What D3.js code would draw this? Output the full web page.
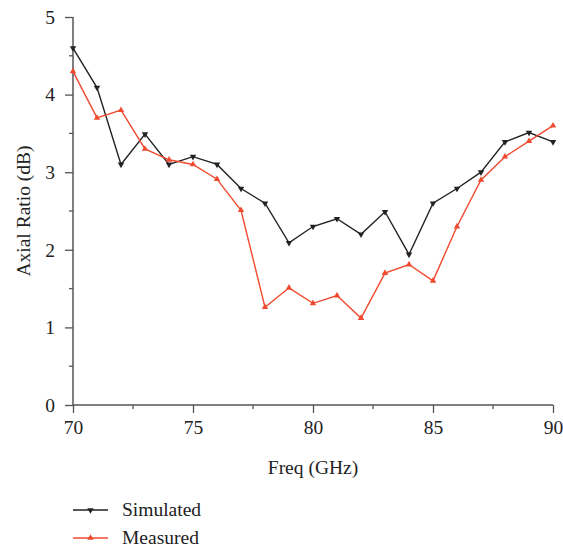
<!DOCTYPE html>
<html>
<head>
<meta charset="utf-8">
<script src="https://cdn.jsdelivr.net/npm/d3@7"></script>
<style>
  body { margin: 0; background: #fff; }
  text { font-family: "Liberation Serif", "DejaVu Serif", serif; fill: #222; }
</style>
</head>
<body>
<svg id="chart" width="563" height="549"></svg>
<script>
// Axial ratio vs frequency
const freqs = [70, 71, 72, 73, 74, 75, 76, 77, 78, 79, 80, 81, 82, 83, 84, 85, 86, 87, 88, 89, 90];
const simulated = [4.60, 4.09, 3.10, 3.49, 3.10, 3.20, 3.10, 2.79, 2.60, 2.09, 2.30, 2.40, 2.20, 2.49, 1.94, 2.60, 2.79, 3.00, 3.39, 3.51, 3.39];
const measured = [4.30, 3.70, 3.80, 3.30, 3.16, 3.10, 2.91, 2.51, 1.26, 1.51, 1.31, 1.41, 1.12, 1.70, 1.81, 1.60, 2.30, 2.90, 3.20, 3.40, 3.60];
const xTicks = [70, 75, 80, 85, 90];
const yTicks = [0, 1, 2, 3, 4, 5];
const seriesNames = ['Simulated', 'Measured'];

const svg = d3.select('#chart');
const plotLeft = 73, plotRight = 553, plotTop = 17, plotBottom = 405;
const fontSize = 19.5;

const x = d3.scaleLinear().domain([70, 90]).range([plotLeft, plotRight]);
const y = d3.scaleLinear().domain([0, 5]).range([plotBottom, plotTop]);

const axisColor = '#555';

// minor ticks
const xMinor = d3.range(72.5, 90, 5);
const yMinor = d3.range(0.5, 5, 1);

const gx = svg.append('g').attr('transform', `translate(0,${plotBottom})`);
gx.call(d3.axisBottom(x).tickValues(xTicks).tickSize(8).tickPadding(7).tickFormat(d3.format('d')));
gx.append('g').selectAll('line').data(xMinor).enter().append('line')
  .attr('x1', d => x(d)).attr('x2', d => x(d)).attr('y1', 0).attr('y2', 4)
  .attr('stroke', axisColor).attr('stroke-width', 1.3);

const gy = svg.append('g').attr('transform', `translate(${plotLeft},0)`);
gy.call(d3.axisLeft(y).tickValues(yTicks).tickSize(8).tickPadding(10).tickFormat(d3.format('d')));
gy.append('g').selectAll('line').data(yMinor).enter().append('line')
  .attr('y1', d => y(d)).attr('y2', d => y(d)).attr('x1', 0).attr('x2', -4)
  .attr('stroke', axisColor).attr('stroke-width', 1.3);

[gx, gy].forEach(g => {
  g.attr('font-family', null).attr('font-size', null);
  g.select('.domain').attr('stroke', axisColor).attr('stroke-width', 1.5);
  g.selectAll('.tick line').attr('stroke', axisColor).attr('stroke-width', 1.3);
  g.selectAll('.tick text').attr('font-size', fontSize).attr('fill', '#222');
});
gx.select('.domain').attr('d', `M${plotLeft},0H${plotRight}`);
gy.select('.domain').attr('d', `M0,${plotBottom}V${plotTop}`);

// axis titles
svg.append('text')
  .attr('x', (plotLeft + plotRight) / 2).attr('y', 474)
  .attr('text-anchor', 'middle').attr('font-size', fontSize)
  .text('Freq (GHz)');

svg.append('text')
  .attr('transform', `translate(30,${(plotTop + plotBottom) / 2}) rotate(-90)`)
  .attr('text-anchor', 'middle').attr('font-size', fontSize)
  .text('Axial Ratio (dB)');

// series
const colors = ['#222', '#f04a2f'];
const data = [simulated, measured];
const line = d3.line().x((d, i) => x(freqs[i])).y(d => y(d));
const tri = d3.symbol().type(d3.symbolTriangle).size(18);

data.forEach((vals, si) => {
  const g = svg.append('g');
  g.append('path').datum(vals)
    .attr('d', line)
    .attr('fill', 'none')
    .attr('stroke', colors[si])
    .attr('stroke-width', 1.4);
  g.selectAll('path.mk').data(vals).enter().append('path')
    .attr('class', 'mk')
    .attr('d', tri)
    .attr('transform', (d, i) => `translate(${x(freqs[i])},${y(d)}) rotate(${si === 0 ? 180 : 0})`)
    .attr('fill', colors[si]);
});

// legend
const legY = [510, 538];
seriesNames.forEach((name, si) => {
  const g = svg.append('g');
  g.append('line')
    .attr('x1', 73).attr('x2', 108).attr('y1', legY[si]).attr('y2', legY[si])
    .attr('stroke', colors[si]).attr('stroke-width', 1.4);
  g.append('path')
    .attr('d', tri)
    .attr('transform', `translate(90.5,${legY[si]}) rotate(${si === 0 ? 180 : 0})`)
    .attr('fill', colors[si]);
  g.append('text')
    .attr('x', 122).attr('y', legY[si] + 6)
    .attr('font-size', fontSize)
    .text(name);
});
</script>
</body>
</html>
